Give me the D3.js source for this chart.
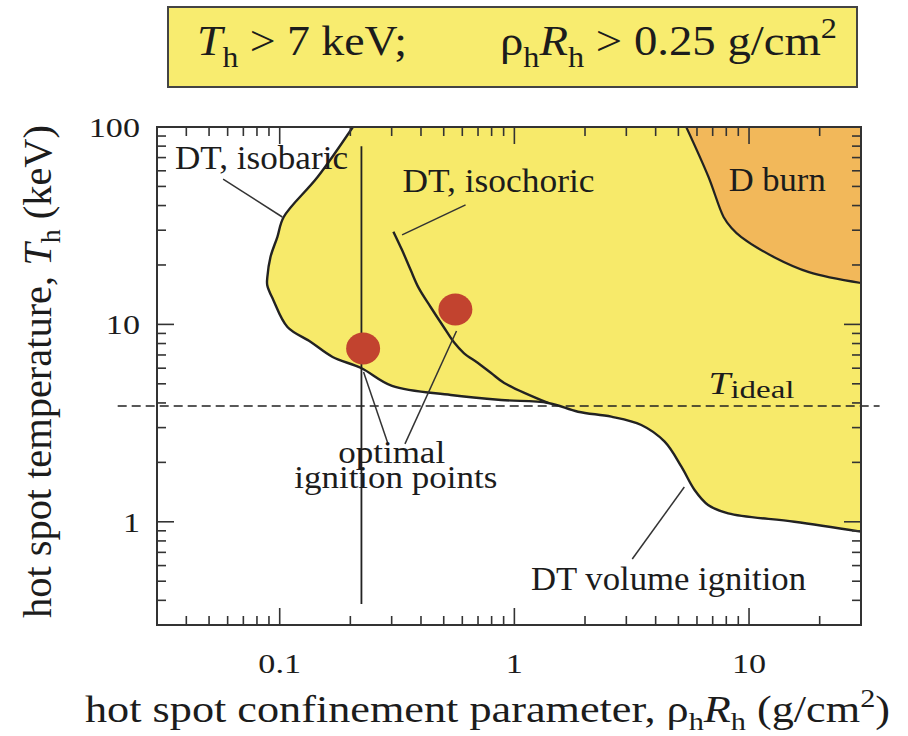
<!DOCTYPE html>
<html>
<head>
<meta charset="utf-8">
<script src="https://cdn.jsdelivr.net/npm/d3@7/dist/d3.min.js"></script>
<style>
  body { margin: 0; background: #fff; }
  svg { display: block; }
</style>
</head>
<body>
<svg id="chart" width="908" height="736"></svg>
<script>
// ---- data (rho*R in g/cm^2, T in keV) ----
const xTickValues = [0.1, 1, 10];
const xTickLabels = ["0.1", "1", "10"];
const yTickValues = [1, 10, 100];
const yTickLabels = ["1", "10", "100"];

// DT ignition boundary: isobaric branch on the left, volume ignition on the right
const ignitionBoundary = [
  [0.205, 100], [0.145, 55.8], [0.104, 35.0], [0.0977, 27.7], [0.0913, 21.9],
  [0.0886, 17.4], [0.0885, 15.8], [0.0939, 13.3], [0.1079, 9.70], [0.1352, 8.17],
  [0.168, 6.84], [0.2222, 6.01], [0.301, 4.88], [0.536, 4.39], [0.8785, 4.14],
  [1.394, 4.0], [1.867, 3.61], [2.588, 3.407], [3.475, 3.093], [4.37, 2.545],
  [5.15, 1.901], [5.86, 1.449], [6.69, 1.217], [8.15, 1.104], [15.6, 1.0], [30, 0.891]
];

// DT isochoric ignition curve
const isochoric = [
  [0.3051, 29.5], [0.3322, 23.8], [0.3612, 18.9], [0.3910, 15.3], [0.4396, 12.25],
  [0.4998, 9.70], [0.5517, 8.14], [0.6090, 7.16], [0.6998, 6.37], [0.7960, 5.67],
  [0.9053, 5.05], [1.393, 4.00]
];

// D burn region boundary
const dBurnEdge = [
  [5.40, 100], [6.72, 55.8], [7.79, 35.0], [8.42, 30.8], [9.27, 27.7],
  [12.8, 21.9], [18.0, 18.4], [30, 16.2]
];

const tIdeal = 3.86;                 // keV
const tIdealSpan = [0.0204, 36];     // rho*R extent of the dashed line
const rhoRMarker = 0.223;            // vertical reference line
const rhoRMarkerSpan = [0.383, 80];  // T extent of that line
const optimalPoints = [[0.2267, 7.55], [0.5605, 11.9]];

// annotation leader lines and labels, in data units
const leaders = [
  [[0.0574, 54.5], [0.1026, 35.0]],
  [[0.3323, 28.4], [0.6196, 40.3]],
  [[0.2277, 5.74], [0.2886, 2.51]],
  [[0.5668, 9.26], [0.3418, 2.48]],
  [[5.30, 1.50], [3.18, 0.648]]
];
const labelTexts = ["DT, isobaric", "DT, isochoric", "D burn", "optimal", "ignition points", "DT volume ignition"];
const labelAnchors = [[0.0358, 61.3], [0.3336, 46.9], [8.19, 47.4], [0.300, 1.99], [0.3123, 1.48], [1.178, 0.451]];
const labelAlign = ["start", "start", "start", "middle", "middle", "start"];
const tIdealLabelAt = [6.72, 4.44];

// ---- layout ----
const FONT = '"Liberation Serif", "Times New Roman", Tinos, serif';
const svg = d3.select("#chart").style("font-family", FONT);
const x = d3.scaleLog().domain([0.03, 30]).range([157, 861]);
const y = d3.scaleLog().domain([0.3, 100]).range([625, 127]);
const [x0, x1] = x.range();
const [y0, y1] = y.range();

const YELLOW = "#f7ea6a", ORANGE = "#f2b85a", RED = "#c2432f", INK = "#222", TEXT = "#1c1c1c";
const labelWidths = [173, 192, 97, 107, 203, 275];   // rendered label lengths, px
const labelSizes = [33, 33, 33, 31, 31, 33];

// every text node gets the serif face and ink colour inline
const addText = (parent) => parent.append("text").style("font-family", FONT).attr("fill", TEXT);

svg.append("defs").append("clipPath").attr("id", "plot")
  .append("rect").attr("x", x0).attr("y", y1).attr("width", x1 - x0).attr("height", y0 - y1);

const line = d3.line().x(d => x(d[0])).y(d => y(d[1])).curve(d3.curveCatmullRom.alpha(0.5));

// ---- title box ----
const tb = svg.append("g");
tb.append("rect").attr("x", 168).attr("y", 7).attr("width", 689).attr("height", 80)
  .attr("fill", "#f8ec6f").attr("stroke", "#444").attr("stroke-width", 2);
const t1 = addText(tb).attr("x", 197).attr("y", 55).attr("font-size", 42);
t1.append("tspan").attr("font-style", "italic").text("T");
t1.append("tspan").attr("font-size", 29).attr("dy", 12).text("h");
t1.append("tspan").attr("dy", -12).text(" > 7 keV;");
t1.attr("textLength", 210).attr("lengthAdjust", "spacingAndGlyphs");
const t2 = addText(tb).attr("x", 500).attr("y", 55).attr("font-size", 42);
t2.append("tspan").text("ρ");
t2.append("tspan").attr("font-size", 29).attr("dy", 12).text("h");
t2.append("tspan").attr("dy", -12).attr("font-style", "italic").text("R");
t2.append("tspan").attr("font-size", 29).attr("dy", 12).text("h");
t2.append("tspan").attr("dy", -12).text(" > 0.25 g/cm");
t2.append("tspan").attr("font-size", 29).attr("dy", -17).text("2");
t2.attr("textLength", 337).attr("lengthAdjust", "spacingAndGlyphs");

// ---- regions ----
const plot = svg.append("g").attr("clip-path", "url(#plot)");
plot.append("path")
  .attr("d", line(ignitionBoundary) + `L${x(30)},${y(100)}Z`)
  .attr("fill", YELLOW);
plot.append("path")
  .attr("d", line(dBurnEdge) + `L${x(30)},${y(100)}Z`)
  .attr("fill", ORANGE);

// ---- ideal ignition temperature ----
svg.append("line")
  .attr("x1", x(tIdealSpan[0])).attr("x2", x(tIdealSpan[1]))
  .attr("y1", y(tIdeal)).attr("y2", y(tIdeal))
  .attr("stroke", INK).attr("stroke-width", 1.6).attr("stroke-dasharray", "9,5");

// ---- vertical rho*R marker ----
svg.append("line")
  .attr("x1", x(rhoRMarker)).attr("x2", x(rhoRMarker))
  .attr("y1", y(rhoRMarkerSpan[0])).attr("y2", y(rhoRMarkerSpan[1]))
  .attr("stroke", INK).attr("stroke-width", 1.8);

// ---- curves ----
plot.append("path").attr("d", line(ignitionBoundary))
  .attr("fill", "none").attr("stroke", INK).attr("stroke-width", 2.4);
plot.append("path").attr("d", line(dBurnEdge))
  .attr("fill", "none").attr("stroke", INK).attr("stroke-width", 2.2);
plot.append("path").attr("d", line(isochoric))
  .attr("fill", "none").attr("stroke", INK).attr("stroke-width", 2.4);

// ---- optimal ignition points ----
svg.selectAll("ellipse.pt").data(optimalPoints).join("ellipse")
  .attr("class", "pt")
  .attr("cx", d => x(d[0])).attr("cy", d => y(d[1]))
  .attr("rx", 17).attr("ry", 16)
  .attr("fill", RED);

// ---- leader lines ----
svg.selectAll("line.leader").data(leaders).join("line")
  .attr("class", "leader")
  .attr("x1", d => x(d[0][0])).attr("y1", d => y(d[0][1]))
  .attr("x2", d => x(d[1][0])).attr("y2", d => y(d[1][1]))
  .attr("stroke", "#333").attr("stroke-width", 1.5);

// ---- frame and ticks ----
svg.append("rect").attr("x", x0).attr("y", y1).attr("width", x1 - x0).attr("height", y0 - y1)
  .attr("fill", "none").attr("stroke", "#333").attr("stroke-width", 2);

const isMajor = v => Math.abs(Math.log10(v) - Math.round(Math.log10(v))) < 1e-9;
const MAJ = 17, MIN = 9;
const tickG = svg.append("g").attr("stroke", "#333").attr("stroke-width", 1.6);
x.ticks().forEach(v => {
  const px = x(v), len = isMajor(v) ? MAJ : MIN;
  if (px <= x0 + 0.5 || px >= x1 - 0.5) return;
  tickG.append("line").attr("x1", px).attr("x2", px).attr("y1", y0).attr("y2", y0 - len);
  tickG.append("line").attr("x1", px).attr("x2", px).attr("y1", y1).attr("y2", y1 + len);
});
y.ticks().forEach(v => {
  const py = y(v), len = isMajor(v) ? MAJ : MIN;
  if (py >= y0 - 0.5 || py <= y1 + 0.5) return;
  tickG.append("line").attr("x1", x0).attr("x2", x0 + len).attr("y1", py).attr("y2", py);
  tickG.append("line").attr("x1", x1).attr("x2", x1 - len).attr("y1", py).attr("y2", py);
});

// ---- tick labels (slightly widened face) ----
xTickValues.forEach((v, i) => {
  addText(svg)
    .attr("transform", `translate(${x(v)},673) scale(1.22,1)`)
    .attr("text-anchor", "middle").attr("font-size", 28)
    .text(xTickLabels[i]);
});
yTickValues.forEach((v, i) => {
  addText(svg)
    .attr("transform", `translate(140,${y(v) + 10}) scale(1.22,1)`)
    .attr("text-anchor", "end").attr("font-size", 28)
    .text(yTickLabels[i]);
});

// ---- axis titles ----
const xt = addText(svg).attr("x", 85).attr("y", 722).attr("font-size", 38);
xt.append("tspan").text("hot spot confinement parameter, ρ");
xt.append("tspan").attr("font-size", 26).attr("dy", 8).text("h");
xt.append("tspan").attr("dy", -8).attr("font-style", "italic").text("R");
xt.append("tspan").attr("font-size", 26).attr("dy", 8).text("h");
xt.append("tspan").attr("dy", -8).text(" (g/cm");
xt.append("tspan").attr("font-size", 26).attr("dy", -15).text("2");
xt.append("tspan").attr("dy", 15).text(")");
xt.attr("textLength", 805).attr("lengthAdjust", "spacingAndGlyphs");

const yt = addText(svg)
  .attr("transform", "translate(51,618) rotate(-90)")
  .attr("font-size", 39);
yt.append("tspan").text("hot spot temperature, ");
yt.append("tspan").attr("font-style", "italic").text("T");
yt.append("tspan").attr("font-size", 27).attr("dy", 9).text("h");
yt.append("tspan").attr("dy", -9).text(" (keV)");
yt.attr("textLength", 493).attr("lengthAdjust", "spacingAndGlyphs");

// ---- annotation labels ----
labelTexts.forEach((t, i) => {
  addText(svg)
    .attr("x", x(labelAnchors[i][0])).attr("y", y(labelAnchors[i][1]))
    .attr("text-anchor", labelAlign[i]).attr("font-size", labelSizes[i])
    .attr("textLength", labelWidths[i]).attr("lengthAdjust", "spacingAndGlyphs")
    .text(t);
});
const ti = addText(svg)
  .attr("x", x(tIdealLabelAt[0])).attr("y", y(tIdealLabelAt[1]))
  .attr("font-size", 31);
ti.append("tspan").attr("font-style", "italic").text("T");
ti.append("tspan").attr("font-size", 26).attr("dy", 4).text("ideal");
ti.attr("textLength", 86).attr("lengthAdjust", "spacingAndGlyphs");
</script>
</body>
</html>
